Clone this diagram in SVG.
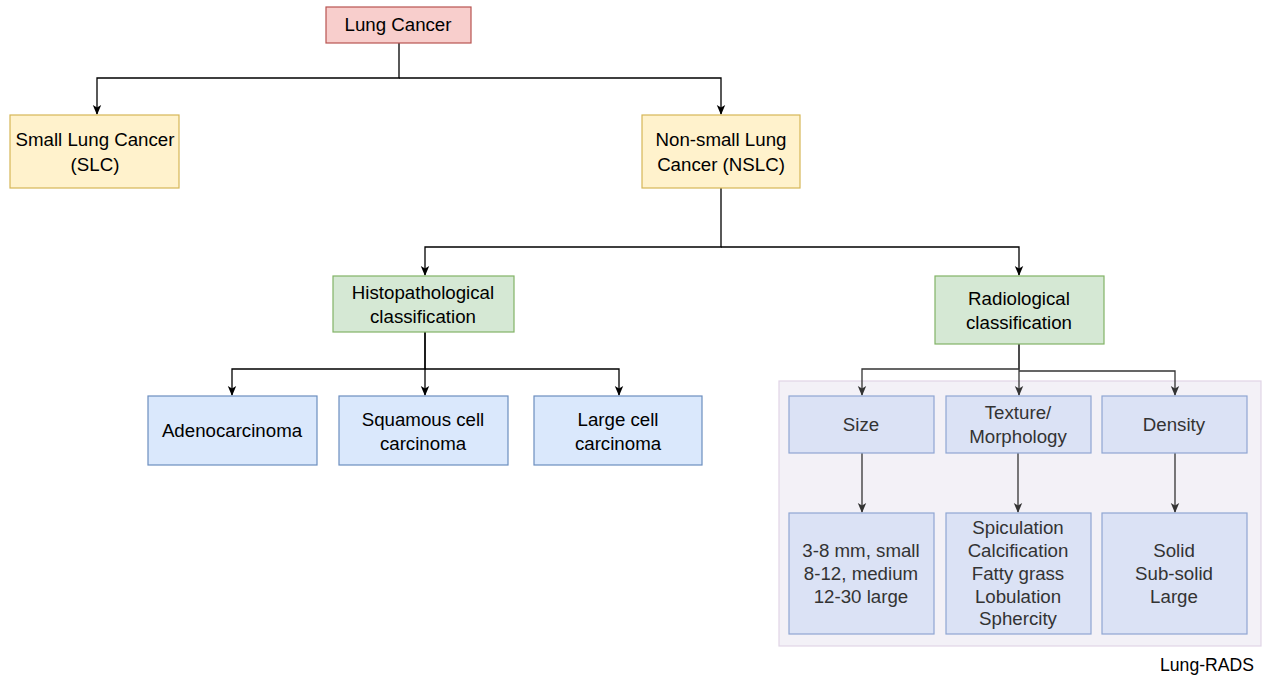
<svg xmlns="http://www.w3.org/2000/svg" width="1266" height="675" viewBox="0 0 1266 675">
<style>
text{font-family:"Liberation Sans",Arial,sans-serif;font-size:18.7px;text-anchor:middle;fill:#000}
.g text{fill:#333}
.red{fill:#f8cecc;stroke:#b85450;stroke-width:1.2}
.yel{fill:#fff2cc;stroke:#d6b656;stroke-width:1.2}
.grn{fill:#d5e8d4;stroke:#82b366;stroke-width:1.2}
.blu{fill:#dae8fc;stroke:#6c8ebf;stroke-width:1.2}
.lav{fill:#dbe2f5;stroke:#8fa6d2;stroke-width:1.2}
.con{fill:none;stroke:#000;stroke-width:1.3}
.con2{fill:none;stroke:#333;stroke-width:1.3}
</style>
<defs>
<marker id="ah" markerWidth="10" markerHeight="10" refX="9" refY="5" orient="auto" markerUnits="userSpaceOnUse">
<path d="M0,0.8 L10,5 L0,9.2 L2.5,5 Z" fill="#000"/>
</marker>
<marker id="ah2" markerWidth="10" markerHeight="10" refX="9" refY="5" orient="auto" markerUnits="userSpaceOnUse">
<path d="M0,0.8 L10,5 L0,9.2 L2.5,5 Z" fill="#333"/>
</marker>
</defs>
<rect id="container" x="779" y="381" width="482" height="265" fill="#f3f1f7" stroke="#e1d5e7" stroke-width="1.2"/>
<g id="connectors">
<path class="con" d="M399,43 V78 H97 V114" marker-end="url(#ah)"/>
<path class="con" d="M399,78 H721 V114" marker-end="url(#ah)"/>
<path class="con" d="M721,188 V247 H425 V275" marker-end="url(#ah)"/>
<path class="con" d="M721,247 H1019 V275" marker-end="url(#ah)"/>
<path class="con" d="M425,332 V369 H232 V395" marker-end="url(#ah)"/>
<path class="con" d="M425,332 V395" marker-end="url(#ah)"/>
<path class="con" d="M425,369 H619 V395" marker-end="url(#ah)"/>
<path class="con2" d="M1019,344 V369 H862 V395" marker-end="url(#ah2)"/>
<path class="con2" d="M1019,344 V395" marker-end="url(#ah2)"/>
<path class="con2" d="M1019,371 H1175 V395" marker-end="url(#ah2)"/>
<path class="con2" d="M862,453 V512" marker-end="url(#ah2)"/>
<path class="con2" d="M1018,453 V512" marker-end="url(#ah2)"/>
<path class="con2" d="M1175,453 V512" marker-end="url(#ah2)"/>
</g>
<g id="lung-cancer"><rect class="red" x="326" y="7" width="145" height="36"/><text x="398" y="31">Lung Cancer</text></g>
<g id="slc"><rect class="yel" x="10" y="115" width="169" height="73"/><text x="95" y="146">Small Lung Cancer</text><text x="95" y="171">(SLC)</text></g>
<g id="nslc"><rect class="yel" x="642" y="115" width="158" height="73"/><text x="721" y="146">Non-small Lung</text><text x="721" y="171">Cancer (NSLC)</text></g>
<g id="histo"><rect class="grn" x="333" y="276" width="181" height="56"/><text x="423" y="299">Histopathological</text><text x="423" y="323">classification</text></g>
<g id="radio"><rect class="grn" x="935" y="276" width="169" height="68"/><text x="1019" y="305">Radiological</text><text x="1019" y="329">classification</text></g>
<g id="adeno"><rect class="blu" x="148" y="396" width="169" height="69"/><text x="232" y="437">Adenocarcinoma</text></g>
<g id="squamous"><rect class="blu" x="339" y="396" width="169" height="69"/><text x="423" y="426">Squamous cell</text><text x="423" y="450">carcinoma</text></g>
<g id="large"><rect class="blu" x="534" y="396" width="168" height="69"/><text x="618" y="426">Large cell</text><text x="618" y="450">carcinoma</text></g>
<g id="size" class="g"><rect class="lav" x="789" y="396" width="145" height="57"/><text x="861" y="431">Size</text></g>
<g id="texture" class="g"><rect class="lav" x="946" y="396" width="145" height="57"/><text x="1018" y="419">Texture/</text><text x="1018" y="443">Morphology</text></g>
<g id="density" class="g"><rect class="lav" x="1102" y="396" width="145" height="57"/><text x="1174" y="431">Density</text></g>
<g id="size-detail" class="g"><rect class="lav" x="789" y="513" width="145" height="121"/><text x="861" y="557">3-8 mm, small</text><text x="861" y="580">8-12, medium</text><text x="861" y="603">12-30 large</text></g>
<g id="texture-detail" class="g"><rect class="lav" x="946" y="513" width="145" height="121"/><text x="1018" y="534">Spiculation</text><text x="1018" y="557">Calcification</text><text x="1018" y="580">Fatty grass</text><text x="1018" y="603">Lobulation</text><text x="1018" y="625">Sphercity</text></g>
<g id="density-detail" class="g"><rect class="lav" x="1102" y="513" width="145" height="121"/><text x="1174" y="557">Solid</text><text x="1174" y="580">Sub-solid</text><text x="1174" y="603">Large</text></g>
<g id="lung-rads-label"><text x="1207" y="671" style="font-size:17.6px">Lung-RADS</text></g>
</svg>
